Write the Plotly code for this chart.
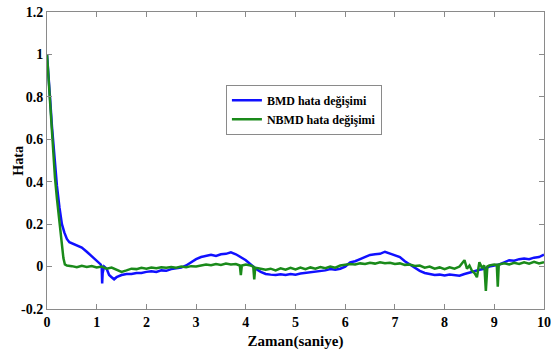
import plotly.graph_objects as go

# BMD hata değişimi (blue)
t_bmd = [0, 0.03, 0.06, 0.1, 0.15, 0.2, 0.25, 0.3, 0.35, 0.4, 0.45, 0.5, 0.6, 0.7, 0.8, 0.9,
         1.0, 1.05, 1.08, 1.1, 1.11, 1.12, 1.15, 1.2, 1.25, 1.3, 1.35, 1.4, 1.45,
         1.5, 1.6, 1.7, 1.8, 1.9, 2.0, 2.1, 2.2, 2.3, 2.4, 2.5, 2.6, 2.7, 2.8, 2.9,
         3.0, 3.1, 3.2, 3.3, 3.4, 3.5, 3.6, 3.7, 3.8, 3.9, 4.0, 4.1, 4.2, 4.3, 4.4,
         4.5, 4.6, 4.7, 4.8, 4.9, 5.0, 5.1, 5.2, 5.3, 5.4, 5.5, 5.6, 5.7, 5.8, 5.9,
         6.0, 6.1, 6.2, 6.3, 6.4, 6.5, 6.6, 6.7, 6.8, 6.9, 7.0, 7.1, 7.2, 7.3, 7.4,
         7.5, 7.6, 7.7, 7.8, 7.9, 8.0, 8.1, 8.2, 8.3, 8.4, 8.5, 8.6, 8.7, 8.8, 8.9,
         9.0, 9.1, 9.2, 9.3, 9.4, 9.5, 9.6, 9.7, 9.8, 9.9, 10.0]
e_bmd = [1.0, 0.92, 0.8, 0.66, 0.5, 0.38, 0.28, 0.2, 0.16, 0.13, 0.115, 0.11, 0.1, 0.09, 0.07, 0.05,
         0.03, 0.02, 0.01, 0.0, -0.08, -0.03, 0.0, -0.01, -0.04, -0.05, -0.06, -0.05, -0.045,
         -0.04, -0.035, -0.035, -0.03, -0.03, -0.025, -0.022, -0.025, -0.018, -0.02, -0.012, -0.008, -0.005, 0.005, 0.02,
         0.035, 0.045, 0.05, 0.055, 0.05, 0.058, 0.06, 0.067, 0.058, 0.045, 0.03, 0.01, -0.01, -0.025, -0.035,
         -0.038, -0.04, -0.036, -0.04, -0.035, -0.038, -0.033, -0.03, -0.028, -0.025, -0.02, -0.018, -0.012, -0.015, -0.01,
         0.0, 0.02, 0.025, 0.035, 0.045, 0.055, 0.058, 0.06, 0.07, 0.062, 0.055, 0.045, 0.025, 0.01, -0.005,
         -0.02, -0.03, -0.035, -0.04, -0.038, -0.042, -0.038, -0.04, -0.043, -0.035, -0.03, -0.022, -0.015, -0.01, 0.0,
         0.005, 0.01, 0.02, 0.03, 0.028, 0.035, 0.038, 0.035, 0.042, 0.045, 0.056]

# NBMD hata değişimi (green)
t_nbmd = [0, 0.04, 0.08, 0.12, 0.16, 0.2, 0.25, 0.3, 0.33, 0.36, 0.4,
          0.5, 0.6, 0.7, 0.8, 0.9, 1.0, 1.1, 1.2, 1.3, 1.4, 1.5, 1.6, 1.7, 1.8, 1.9,
          2.0, 2.1, 2.2, 2.3, 2.4, 2.5, 2.6, 2.7, 2.8, 2.9, 3.0, 3.1, 3.2, 3.3, 3.4,
          3.5, 3.6, 3.7, 3.8, 3.88, 3.9, 3.92, 4.0, 4.1, 4.15, 4.17, 4.19, 4.3, 4.4,
          4.5, 4.6, 4.7, 4.8, 4.9, 5.0, 5.1, 5.2, 5.3, 5.4, 5.5, 5.6, 5.7, 5.8, 5.9,
          6.0, 6.1, 6.2, 6.3, 6.4, 6.5, 6.6, 6.7, 6.8, 6.9, 7.0, 7.1, 7.2, 7.3, 7.4,
          7.5, 7.6, 7.7, 7.8, 7.9, 8.0, 8.1, 8.2, 8.3, 8.4, 8.45, 8.5, 8.55, 8.6, 8.65,
          8.7, 8.75, 8.8, 8.83, 8.86, 8.9, 9.0, 9.05, 9.07, 9.09, 9.2, 9.3, 9.4, 9.5,
          9.6, 9.7, 9.8, 9.9, 10.0]
e_nbmd = [1.0, 0.85, 0.7, 0.55, 0.42, 0.32, 0.2, 0.09, 0.04, 0.01, 0.005,
          0.002, -0.003, 0.004, -0.002, 0.003, -0.004, 0.0, -0.01, -0.005, -0.015, -0.025, -0.018, -0.01, -0.012, -0.006,
          -0.01, -0.004, -0.008, -0.003, -0.006, -0.002, -0.005, 0.0, -0.003, 0.002, 0.0, 0.005, 0.01, 0.006, 0.012,
          0.008, 0.014, 0.01, 0.012, 0.005, -0.04, 0.005, 0.01, 0.005, 0.0, -0.06, -0.005, -0.01, -0.015,
          -0.01, -0.018, -0.008, -0.015, -0.006, -0.014, -0.005, -0.012, -0.004, -0.01, -0.002, -0.008, 0.0, -0.005, 0.005,
          0.008, 0.012, 0.01, 0.015, 0.012, 0.018, 0.014, 0.02, 0.016, 0.018, 0.012, 0.015, 0.008, 0.01, 0.003,
          0.005, -0.005, 0.0, -0.01, -0.004, -0.012, -0.003, -0.01, 0.0, 0.03, -0.01, 0.005, -0.02, -0.03, -0.05,
          0.02, -0.005, 0.005, -0.115, 0.0, 0.005, 0.01, 0.008, -0.095, 0.01, 0.015, 0.01, 0.018, 0.012,
          0.02, 0.014, 0.022, 0.015, 0.02]

x_ticks = [0, 1, 2, 3, 4, 5, 6, 7, 8, 9, 10]
y_ticks = [-0.2, 0, 0.2, 0.4, 0.6, 0.8, 1, 1.2]
y_tick_text = ["-0.2", "0", "0.2", "0.4", "0.6", "0.8", "1", "1.2"]

FONT = "Liberation Serif"

fig = go.Figure()
fig.add_trace(go.Scatter(x=t_bmd, y=e_bmd, mode="lines", name="<b>BMD hata değişimi</b>",
                         line=dict(color="#1010ff", width=2.5)))
fig.add_trace(go.Scatter(x=t_nbmd, y=e_nbmd, mode="lines", name="<b>NBMD hata değişimi</b>",
                         line=dict(color="#1a8a1a", width=2.5)))

axis_common = dict(showline=True, linecolor="#8a8a8a", linewidth=1, mirror="ticks",
                   ticks="inside", ticklen=5, tickcolor="#8a8a8a", showgrid=False,
                   zeroline=False, automargin=False,
                   tickfont=dict(family=FONT, size=14, color="black"))

fig.update_layout(
    width=551, height=356,
    margin=dict(l=47, r=7, t=12, b=47),
    paper_bgcolor="white", plot_bgcolor="white",
    font=dict(family=FONT, color="black"),
    xaxis=dict(range=[0, 10], tickvals=x_ticks, ticktext=[f"<b>{v}</b>" for v in x_ticks],
               title=dict(text="<b>Zaman(saniye)</b>", font=dict(family=FONT, size=15), standoff=6),
               **axis_common),
    yaxis=dict(range=[-0.2, 1.2], tickvals=y_ticks, ticktext=[f"<b>{v}</b>" for v in y_tick_text],
               **axis_common),
    annotations=[dict(text="<b>Hata</b>", xref="paper", yref="paper", x=-0.058, y=0.5,
                      xanchor="center", yanchor="middle", textangle=-90, showarrow=False,
                      font=dict(family=FONT, size=14, color="black"))],
    legend=dict(x=0.36, y=0.755, xanchor="left", yanchor="top",
                bgcolor="white", bordercolor="#8a8a8a", borderwidth=1,
                font=dict(family=FONT, size=12, color="black"),
                tracegroupgap=0, itemwidth=30),
    showlegend=True,
)

fig.write_html("out.html")
